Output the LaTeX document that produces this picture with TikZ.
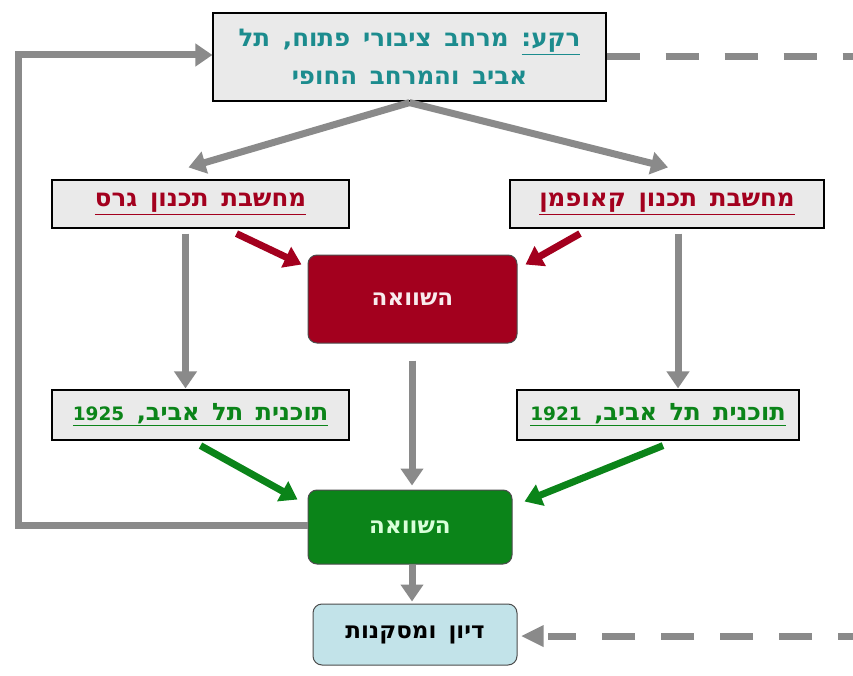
\documentclass[tikz,border=0pt]{standalone}
\usepackage{fontspec}
\usetikzlibrary{arrows.meta,calc}
\TeXXeTstate=1
\newfontfamily\hebfont[Script=Hebrew,WordSpace=1.5]{DejaVu Sans}
\definecolor{boxgray}{HTML}{EAEAEA}
\definecolor{linegray}{HTML}{8A8A8A}
\definecolor{darkred}{HTML}{A3001E}
\definecolor{darkgreen}{HTML}{0B8419}
\definecolor{tealtxt}{HTML}{1C8C8E}
\definecolor{lightblue}{HTML}{C2E3E9}
\newcommand{\yearnum}[1]{\beginL{\fontsize{18.5}{24}\selectfont #1}\endL}
\begin{document}
\begin{tikzpicture}[x=1pt,y=-1pt,
  graybox/.style={draw=black,line width=1.2pt,fill=boxgray,inner sep=0pt,align=center,
    font=\hebfont\bfseries\fontsize{24.5}{38}\selectfont},
  planbox/.style={graybox,font=\hebfont\bfseries\fontsize{24}{28}\selectfont},
  bigbox/.style={draw=black!70,line width=1pt,rounded corners=9pt,inner sep=0pt,
    font=\hebfont\bfseries\fontsize{23}{28}\selectfont},
  garrow/.style={draw=linegray,line width=7pt,-{Triangle[length=17pt,width=22pt]}},
  rarrow/.style={draw=darkred,line width=7pt,-{Triangle[length=17pt,width=22pt]}},
  grarrow/.style={draw=darkgreen,line width=7pt,-{Triangle[length=17pt,width=22pt]}},
  dashline/.style={draw=linegray,line width=7pt,dash pattern=on 33pt off 26pt}
]
\useasboundingbox[fill=white] (0,0) rectangle (853,676);

% nodes
\node[graybox,minimum width=393pt,minimum height=88pt,text=tealtxt] (bg) at (409.5,57)
  {\beginR\underline{\beginR רקע:\endR} מרחב ציבורי פתוח, תל\endR\\ \beginR אביב והמרחב החופי\endR};
\node[graybox,minimum width=297pt,minimum height=48pt,text=darkred] (gros) at (200.5,204)
  {\underline{\beginR מחשבת תכנון גרס\endR}};
\node[graybox,minimum width=314pt,minimum height=48pt,text=darkred] (kauf) at (667,204)
  {\underline{\beginR מחשבת תכנון קאופמן\endR}};
\node[bigbox,fill=darkred,text=white!92!darkred,minimum width=209pt,minimum height=88pt] (cmp1) at (412.5,299)
  {\beginR השוואה\endR};
\node[planbox,minimum width=297pt,minimum height=50pt,text=darkgreen] (p25) at (200.5,415)
  {\underline{\beginR תוכנית תל אביב, \yearnum{1925}\endR}};
\node[planbox,minimum width=282pt,minimum height=50pt,text=darkgreen] (p21) at (658,415)
  {\underline{\beginR תוכנית תל אביב, \yearnum{1921}\endR}};
\node[bigbox,fill=darkgreen,text=white!85!green,minimum width=204pt,minimum height=74pt] (cmp2) at (410,527)
  {\beginR השוואה\endR};
\node[bigbox,fill=lightblue,text=black,minimum width=204pt,minimum height=61pt] (disc) at (415,634.5)
  {\beginR דיון ומסקנות\endR};

\coordinate (tr) at (853,57);
\coordinate (br) at (853,636);
\coordinate (fbl) at (18,525);
\coordinate (ftl) at (18,55);
\coordinate (midx) at (412,0);

% gray arrows
\draw[garrow] ([yshift=-1pt]bg.south) -- ([xshift=-12pt,yshift=12pt]gros.north);
\draw[garrow] ([yshift=-1pt]bg.south) -- ([xshift=1pt,yshift=12pt]kauf.north);
\draw[garrow] ([xshift=-15pt,yshift=-5pt]gros.south) -- ([xshift=-15pt,yshift=1pt]p25.north);
\draw[garrow] ([xshift=11pt,yshift=-5pt]kauf.south) -- ([xshift=20pt,yshift=1pt]p21.north);
\draw[garrow] ([yshift=-17pt]midx |- cmp1.south) -- ([yshift=4pt]midx |- cmp2.north);
\draw[garrow] (midx |- cmp2.south) -- ([yshift=2pt]midx |- disc.north);
% feedback loop
\draw[garrow] (cmp2.west |- fbl) -- (fbl) -- (ftl) -- (bg.west |- ftl);
% dashed links
\draw[dashline] (bg.east |- tr) -- ([xshift=20pt]tr);
\draw[dashline] ([xshift=18pt]br) -- ([xshift=30pt]disc.east |- br);
\draw[draw=none,fill=linegray] ([xshift=4pt]disc.east |- br) -- ++(22pt,-11pt) -- ++(0,22pt) -- cycle;

% red arrows
\draw[rarrow] ([xshift=36pt,yshift=-5pt]gros.south) -- ([xshift=-6pt,yshift=-10pt]cmp1.north west);
\draw[rarrow] ([xshift=-87pt,yshift=-5pt]kauf.south) -- ([xshift=8pt,yshift=-10pt]cmp1.north east);
% green arrows
\draw[grarrow] ([yshift=-5pt]p25.south) -- ([xshift=-10pt,yshift=-10pt]cmp2.north west);
\draw[grarrow] ([xshift=5pt,yshift=-5pt]p21.south) -- ([xshift=12pt,yshift=-12pt]cmp2.north east);
\end{tikzpicture}
\end{document}
